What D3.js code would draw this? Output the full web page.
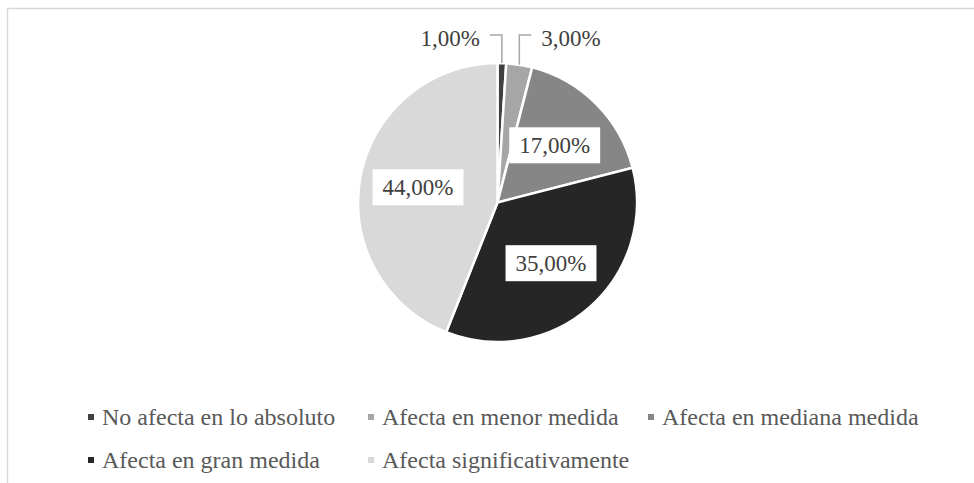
<!DOCTYPE html>
<html>
<head>
<meta charset="utf-8">
<script src="https://cdn.jsdelivr.net/npm/d3@7"></script>
<style>
  body { margin: 0; background: #fff; }
  text { font-family: "Times New Roman", "Liberation Serif", serif; }
</style>
</head>
<body>
<div id="chart"></div>
<script>
// data
var categories = ["No afecta en lo absoluto", "Afecta en menor medida", "Afecta en mediana medida",
                  "Afecta en gran medida", "Afecta significativamente"];
var values = [1, 3, 17, 35, 44];
var sliceColors = ["#404040", "#a6a6a6", "#868686", "#262626", "#d9d9d9"];

// setup
var width = 974, height = 483;
var cx = 497.5, cy = 202.5, radius = 139.5;

var svg = d3.select("#chart").append("svg")
    .attr("width", width)
    .attr("height", height);

// chart frame (only top/left visible in window)
svg.append("rect")
    .attr("x", 7.5).attr("y", 8.5)
    .attr("width", 1200).attr("height", 1200)
    .attr("fill", "none")
    .attr("stroke", "#d9d9d9")
    .attr("stroke-width", 1.5);

var pie = d3.pie().sort(null).value(function(d) { return d; });
var arcs = pie(values);

var arc = d3.arc().innerRadius(0).outerRadius(radius);
var labelArc = d3.arc().innerRadius(radius * 0.58).outerRadius(radius * 0.58);

var fmt = function(v) { return d3.format(".2f")(v).replace(".", ",") + "%"; };

var g = svg.append("g").attr("transform", "translate(" + cx + "," + cy + ")");

g.selectAll("path.slice")
    .data(arcs)
  .enter().append("path")
    .attr("class", "slice")
    .attr("d", arc)
    .attr("fill", function(d, i) { return sliceColors[i]; })
    .attr("stroke", "#fff")
    .attr("stroke-width", 2.5);

// inside labels (big slices) with white boxes
arcs.forEach(function(d, i) {
  var mid = (d.startAngle + d.endAngle) / 2;
  if (d.value >= 5) {
    var c = labelArc.centroid(d);
    var lg = g.append("g").attr("transform", "translate(" + c[0] + "," + c[1] + ")");
    var t = lg.append("text")
        .attr("text-anchor", "middle")
        .attr("dy", "0.35em")
        .attr("font-size", "23px")
        .attr("fill", "#404040")
        .text(fmt(d.value));
    var bb = t.node().getBBox();
    lg.insert("rect", "text")
        .attr("x", bb.x - 10).attr("y", -18)
        .attr("width", bb.width + 20).attr("height", 36)
        .attr("fill", "#fff");
  } else {
    // outside labels with leader lines
    var ex = Math.sin(mid) * radius, ey = -Math.cos(mid) * radius;
    var ly = -(radius + 28);
    var side = i === 0 ? -1 : 1;
    var hx = ex + side * 12;
    g.append("polyline")
        .attr("points", [[ex, ey], [ex, ly], [hx, ly]].map(function(p) { return p.join(","); }).join(" "))
        .attr("fill", "none")
        .attr("stroke", "#a6a6a6")
        .attr("stroke-width", 1.5);
    g.append("text")
        .attr("x", hx + side * 10)
        .attr("y", ly + 3)
        .attr("dy", "0.35em")
        .attr("text-anchor", side < 0 ? "end" : "start")
        .attr("font-size", "23px")
        .attr("fill", "#404040")
        .text(fmt(d.value));
  }
});

// legend
var legend = svg.append("g");
categories.forEach(function(name, i) {
  var x = 88 + (i % 3) * 280;
  var y = 417 + Math.floor(i / 3) * 43;
  legend.append("rect")
      .attr("x", x).attr("y", y - 3)
      .attr("width", 6).attr("height", 6)
      .attr("fill", sliceColors[i]);
  legend.append("text")
      .attr("x", x + 14).attr("y", y)
      .attr("dy", "0.35em")
      .attr("font-size", "24px")
      .attr("fill", "#595959")
      .text(name);
});
</script>
</body>
</html>
